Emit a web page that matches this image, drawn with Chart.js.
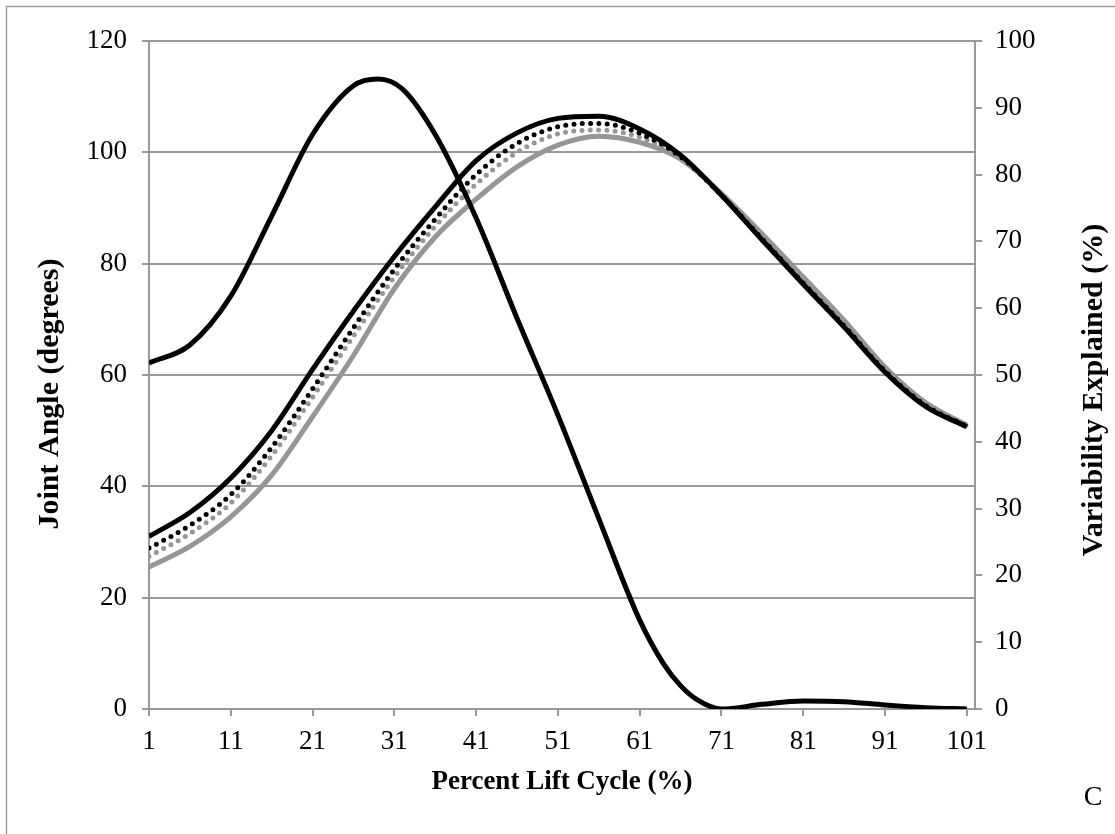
<!DOCTYPE html>
<html>
<head>
<meta charset="utf-8">
<script src="https://cdn.jsdelivr.net/npm/chart.js@4.4.1/dist/chart.umd.min.js"></script>
<style>
  html, body { margin: 0; padding: 0; background: #ffffff; }
  #wrap { position: relative; width: 1115px; height: 834px; }
</style>
</head>
<body>
<div id="wrap"><canvas id="liftChart" width="1115" height="834"></canvas></div>
<script>
// --- Data ---
// joint angle curves, sampled every 5% of the lift cycle
const cycle = [1, 6, 11, 16, 21, 26, 31, 36, 41, 46, 51, 56, 61, 66, 71, 76, 81, 86, 91, 96, 101];
const xTickLabels = [1, 11, 21, 31, 41, 51, 61, 71, 81, 91, 101];

// Joint angle (degrees), left axis
const solidBlack = [31.0, 35.3, 41.5, 50.0, 61.0, 71.5, 81.3, 90.2, 98.5, 103.5, 106.1, 106.5, 104.2, 99.5, 92.3, 84.2, 76.3, 68.6, 60.5, 54.3, 50.7];
const dottedBlack = [28.9, 33.0, 38.5, 47.0, 57.5, 68.5, 79.0, 88.0, 96.0, 101.6, 104.6, 105.2, 103.4, 99.2, 92.3, 84.4, 76.5, 68.8, 60.7, 54.5, 50.8];
const dottedGray = [27.4, 31.5, 37.0, 45.5, 56.0, 67.0, 77.6, 86.7, 94.3, 100.0, 103.3, 104.0, 102.7, 99.0, 92.5, 84.8, 77.0, 69.2, 61.0, 54.7, 50.9];
const solidGray = [25.5, 29.2, 34.5, 42.0, 52.5, 63.5, 75.5, 84.8, 91.6, 97.4, 101.3, 102.9, 101.8, 98.8, 92.6, 85.3, 77.6, 69.8, 61.4, 55.0, 51.0];

// Variability explained (%), right axis - extra samples round the peak and the trough
const variabilityCycle = [1, 6, 11, 16, 21, 26, 29, 32, 36, 41, 46, 51, 56, 61, 64, 66, 68, 71, 76, 81, 86, 91, 96, 101];
const variability = [51.8, 54.5, 61.8, 73.8, 86.0, 93.3, 94.3, 92.8, 86.0, 73.5, 58.5, 44.0, 28.5, 13.3, 6.6, 3.5, 1.4, 0.0, 0.7, 1.2, 1.1, 0.6, 0.2, 0.0];

// Axis text
const xTitle = 'Percent Lift Cycle (%)';
const leftTitle = 'Joint Angle (degrees)';
const rightTitle = 'Variability Explained (%)';
const panelLetter = 'C';

// Colours
const colors = {
    black: '#000000',
    gray: '#969696',
    axis: '#999999',
    frame: '#a0a0a0'
};
const serif = '"Liberation Serif", "Times New Roman", serif';

function toPoints(xs, values) {
    return xs.map((c, i) => ({ x: c, y: values[i] }));
}

// titles, panel letter and outer frame
const decorations = {
    id: 'decorations',
    beforeDraw(chart) {
        const ctx = chart.ctx;
        ctx.save();
        ctx.strokeStyle = colors.frame;
        ctx.lineWidth = 1.5;
        ctx.strokeRect(6.5, 6.5, 1200, 1200);
        ctx.restore();
    },
    afterDraw(chart) {
        const ctx = chart.ctx;
        ctx.save();
        ctx.fillStyle = colors.black;
        ctx.textAlign = 'center';
        ctx.textBaseline = 'middle';
        ctx.font = 'bold 27px ' + serif;
        ctx.fillText(xTitle, 562, 782);

        // vertical titles are set a little larger in the figure
        ctx.font = 'bold 30px ' + serif;
        ctx.save();
        ctx.translate(50, 394);
        ctx.rotate(-Math.PI / 2);
        ctx.fillText(leftTitle, 0, 0);
        ctx.restore();

        ctx.save();
        ctx.translate(1094, 390);
        ctx.rotate(-Math.PI / 2);
        ctx.fillText(rightTitle, 0, 0);
        ctx.restore();

        ctx.font = '28px ' + serif;
        ctx.fillText(panelLetter, 1093, 798);
        ctx.restore();
    }
};

const lineBase = {
    pointRadius: 0,
    fill: false,
    cubicInterpolationMode: 'monotone'
};

new Chart(document.getElementById('liftChart'), {
    type: 'line',
    data: {
        datasets: [
            { ...lineBase, label: 'Variability Explained', data: toPoints(variabilityCycle, variability), yAxisID: 'y1',
              borderColor: colors.black, borderWidth: 5 },
            { ...lineBase, label: 'Series 1', data: toPoints(cycle, solidBlack), yAxisID: 'y',
              borderColor: colors.black, borderWidth: 5 },
            { ...lineBase, label: 'Series 2', data: toPoints(cycle, dottedBlack), yAxisID: 'y',
              borderColor: colors.black, borderWidth: 5, borderDash: [0, 8.3], borderCapStyle: 'round' },
            { ...lineBase, label: 'Series 3', data: toPoints(cycle, dottedGray), yAxisID: 'y',
              borderColor: colors.gray, borderWidth: 5, borderDash: [0, 8.3], borderCapStyle: 'round' },
            { ...lineBase, label: 'Series 4', data: toPoints(cycle, solidGray), yAxisID: 'y',
              borderColor: colors.gray, borderWidth: 5 }
        ]
    },
    options: {
        responsive: false,
        animation: false,
        layout: { padding: { top: 41, left: 0, right: 0, bottom: 0 } },
        plugins: {
            legend: { display: false },
            tooltip: { enabled: false }
        },
        scales: {
            x: {
                type: 'linear',
                position: 'bottom',
                min: 1,
                max: 102,
                afterBuildTicks: axis => { axis.ticks = xTickLabels.map(v => ({ value: v })); },
                afterFit: s => { s.height = 125; },
                ticks: { color: colors.black, font: { family: serif, size: 27 }, padding: 10, maxRotation: 0, autoSkip: false },
                grid: { drawOnChartArea: false, drawTicks: true, tickLength: 7, color: colors.axis, lineWidth: 2 },
                border: { display: true, color: colors.axis, width: 2 }
            },
            y: {
                position: 'left',
                min: 0,
                max: 120,
                afterFit: s => { s.width = 149; },
                ticks: { stepSize: 20, color: colors.black, font: { family: serif, size: 27 }, padding: 15 },
                grid: { color: colors.axis, lineWidth: 2, tickLength: 7 },
                border: { display: true, color: colors.axis, width: 2 }
            },
            y1: {
                position: 'right',
                min: 0,
                max: 100,
                afterFit: s => { s.width = 140; },
                ticks: { stepSize: 10, color: colors.black, font: { family: serif, size: 27 }, padding: 13 },
                grid: { drawOnChartArea: false, color: colors.axis, lineWidth: 2, tickLength: 7 },
                border: { display: true, color: colors.axis, width: 2 }
            }
        }
    },
    plugins: [decorations]
});
</script>
</body>
</html>
